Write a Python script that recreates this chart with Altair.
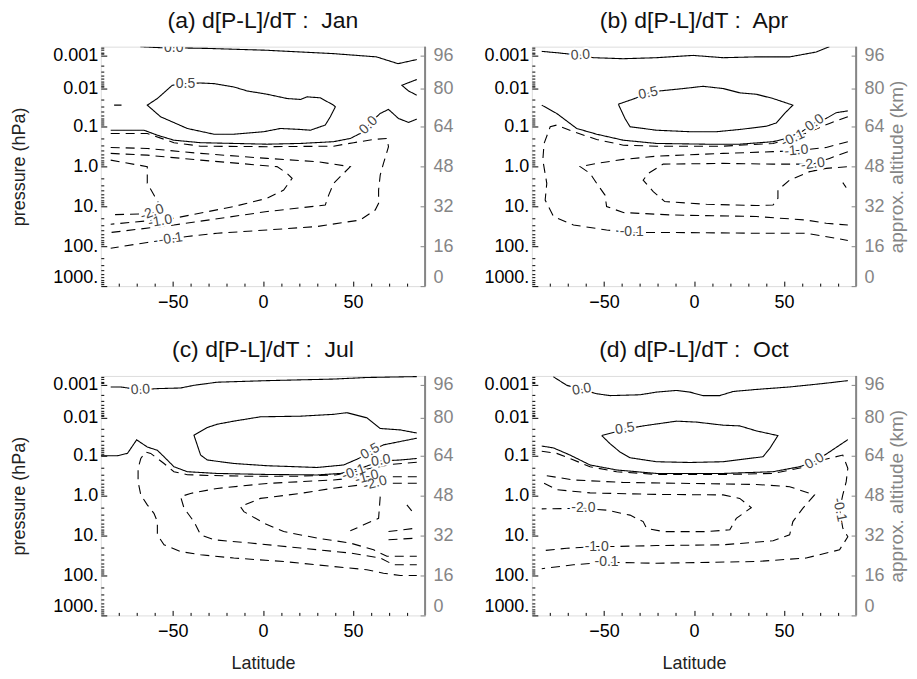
import altair as alt
import numpy as np
import pandas as pd

FONT = "Liberation Sans"
W, H = 325, 240

# ---------------- axes / scale settings ----------------
LAT_DOMAIN = [-90, 90]
LAT_MAJOR = [-50, 0, 50]
LAT_MINOR = [-80, -70, -60, -40, -30, -20, -10, 10, 20, 30, 40, 60, 70, 80]
ALT_TICKS = [0, 16, 32, 48, 64, 80, 96]
PRESSURE_LABELS = ["1000.", "100.", "10.", "1.0", "0.1", "0.01", "0.001"]
Y_DOMAIN = [0, 16, 32, 48, 64, 80, 96, 100]
Y_PIX = [240, 200, 160, 120, 80, 42, 9, 0]   # non-uniform vertical axis (pixels from top)

TITLES = {"a": "(a) d[P-L]/dT :\u00a0 Jan", "b": "(b) d[P-L]/dT :\u00a0 Apr",
          "c": "(c) d[P-L]/dT :\u00a0 Jul", "d": "(d) d[P-L]/dT :\u00a0 Oct"}

# ---------------- contour data (lat, approx altitude km) ----------------
# Panel (a) Jan
A_TOP0_LAT = [-68, -56, -44, -30, 2, 39, 63, 75, 85.4]
A_TOP0_Z = [100, 99.5, 99.4, 99.2, 98.4, 96.9, 95.4, 92.1, 94.1]
A_P05_LAT = [-50.3, -43, -34.6, -27.2, -16.2, -8.8, 2.3, 13.4, 20.8, 24.5, 31.8, 39.2, 40.2, 37.4, 34.6, 26.3, 20.8, 9.7, 0.5, -16.2, -27.2, -42.0, -56.8, -64.2, -58.6, -50.3]
A_P05_Z = [81.6, 82.4, 82.7, 82.4, 80.8, 79.0, 77.6, 75.8, 75.4, 76.5, 76.1, 73.0, 72.3, 68.1, 64.6, 62.5, 62.8, 63.2, 61.9, 60.9, 60.9, 63.2, 68.1, 73.0, 75.8, 81.6]
A_DOT_LAT = [-82.6, -78.5]
A_DOT_Z = [73, 73]
A_R1_LAT = [85.4, 77.1, 80.8, 85.4]
A_R1_Z = [84.4, 81.6, 79.0, 77.2]
A_LOW0_LAT = [-84.5, -66.0, -58.6, -49.4, -34.6, -16.2, 2.3, 20.8, 39.2, 48.5, 54, 58.6, 63, 65.1, 69.7, 75.2, 80.8, 85.4]
A_LOW0_Z = [62.5, 62.5, 60.5, 58.5, 57.5, 57.2, 56.9, 57.2, 57.9, 59.2, 61.2, 64.5, 68.0, 69.5, 71.2, 67.4, 65.7, 67.1]
A_M01_LAT = [-84.5, -64.2, -49.4, -34.6, 2.3, 39.2, 50.3, 61.4, 68.8, 69.7, 66.9, 65.1, 64.2, 64.2, 62.3, 54.0, 30.0, 2.3, -25.4, -42.0, -51.2, -64.2, -84.5]
A_M01_Z = [61.2, 61.2, 57.5, 56.1, 55.9, 56.1, 57.5, 58.8, 59.2, 55.9, 49.2, 44.5, 38.5, 33.2, 30.5, 26.5, 23.9, 22.5, 21.2, 19.9, 18.8, 17.5, 15.2]
A_M05_LAT = [-84.5, -64.2, -34.6, 2.3, 30.0, 48.5, 39.2, 36.5, 34.6, 2.3, -49.4, -84.5]
A_M05_Z = [55.6, 55.2, 53.2, 51.2, 49.9, 47.9, 41.2, 36.5, 32.5, 29.9, 24.5, 21.5]
A_M10_LAT = [-84.5, -64.2, -34.6, 7.8, 13.4, 16.2, 11.5, 2.3, -16.2, -49.4, -84.5]
A_M10_Z = [53.2, 52.5, 50.5, 47.9, 45.2, 43.2, 38.5, 35.2, 31.9, 27.2, 24.8]
A_M20_LAT = [-84.5, -64.2, -64.2, -60.5, -56.8, -61.4, -84.5]
A_M20_Z = [50.5, 47.9, 41.2, 36.5, 31.9, 29.1, 28.6]

# Panel (b) Apr
B_TOP0_LAT = [-84.5, -76.2, -63, -55.8, -39.2, -20.8, -0.5, 16.2, 34.6, 53.1, 67.8, 75.2]
B_TOP0_Z = [97.9, 97.3, 96.2, 95.0, 94.5, 95.0, 96.1, 95.0, 95.4, 95.4, 97.6, 100]
B_P05_LAT = [-42.0, -34, -25.4, -18.9, -6.0, 5.1, 16.2, 25.4, 34.6, 43.9, 54.9, 50.3, 45.7, 40.2, 25.4, 12.5, -2.3, -20.8, -35.5, -38.3, -42.0]
B_P05_Z = [73.4, 75.5, 78.0, 79.0, 80.0, 81.1, 80.0, 78.2, 77.6, 75.8, 73.0, 69.5, 65.5, 64.1, 62.8, 61.9, 61.9, 62.5, 63.9, 67.4, 73.4]
B_LOW0_LAT = [-84.5, -76.2, -65.1, -54.0, -39.2, -20.8, 6.9, 25.4, 43.9, 51.2, 60, 67, 73.4, 78.9, 85.4]
B_LOW0_Z = [73.0, 69.5, 63.2, 60.9, 58.5, 57.2, 56.9, 56.9, 57.9, 59.2, 62.0, 65.5, 67.4, 69.8, 70.6]
B_M01_LAT = [85.4, 75.2, 64.2, 54.9, 43.9, 16.2, -20.8, -39.2, -54.0, -66.9, -76.2, -79.8, -83.2, -83.9, -81.7, -82.6, -78.0, -66.9, -48.5, -34.6, -11.5, 34.6, 62.3, 71.5, 85.4]
B_M01_Z = [68.1, 65.3, 61.9, 59.2, 57.2, 56.1, 56.1, 56.5, 58.8, 61.9, 64.6, 63.9, 57.2, 50.5, 41.2, 34.5, 27.9, 24.5, 22.5, 21.5, 21.5, 21.2, 21.2, 20.1, 18.3]
B_M10_LAT = [85.4, 73.4, 56.8, 43.9, 16.2, -20.8, -39.2, -54.0, -63.2, -57.7, -54.0, -49.4, -48.5, -39.2, -11.5, 34.6, 62.3, 73.4, 85.4]
B_M10_Z = [57.9, 55.6, 54.3, 53.9, 53.2, 52.1, 50.8, 49.2, 47.9, 45.2, 41.2, 36.5, 31.9, 29.5, 28.5, 27.9, 26.5, 25.2, 24.5]
B_M20_LAT = [85.4, 75.2, 66.0, 43.9, 16.2, -17.1, -25.4, -28.2, -22.6, -16.2, 6.9, 34.6, 43.9, 46.6, 46.6, 53.1, 64.2, 73.4, 85.4]
B_M20_Z = [53.9, 51.2, 48.9, 48.9, 49.2, 48.9, 45.2, 42.5, 37.9, 33.9, 32.8, 32.3, 32.5, 35.2, 38.5, 42.5, 45.9, 47.2, 47.9]
B_TINY_LAT = [82.6, 84.5]
B_TINY_Z = [41.5, 39.5]

# Panel (c) Jul
C_TOP0_LAT = [-84.5, -78.9, -68, -58.6, -45.7, -38.3, -25.4, 2.3, 39.2, 57.7, 85.4]
C_TOP0_Z = [95.0, 95.0, 93.6, 94.2, 94.5, 95.8, 97.2, 97.9, 98.6, 99.3, 99.7]
C_P05_LAT = [85.4, 76.2, 65.1, 57.7, 46.6, 39.2, 20.8, -1.4, -16.2, -25.4, -30.9, -38.3, -34.6, -30.9, -16.2, 2.3, 30.0, 44.8, 53.1, 59.5, 66.9, 85.4]
C_P05_Z = [73.6, 74.9, 75.5, 80.0, 82.5, 81.7, 80.8, 80.5, 78.6, 77.3, 75.9, 72.7, 64.3, 62.3, 60.9, 60.0, 59.3, 60.3, 62.9, 65.6, 68.6, 71.4]
C_LOW0_LAT = [-90, -80.8, -75.2, -70.1, -64.2, -58.6, -54.9, -49.4, -42.0, -25.4, 2.3, 30.0, 42.9, 54.0, 65.5, 76.2, 85.4]
C_LOW0_Z = [64.0, 64.0, 65.0, 70.7, 67.7, 66.3, 63.6, 59.6, 57.6, 56.9, 56.5, 56.3, 56.9, 58.9, 61.9, 62.3, 62.9]
C_M01_LAT = [85.4, 72, 60, 50.3, 40, 20, -10, -30, -42, -49.4, -54.9, -62.3, -65.1, -67.8, -69.3, -69.3, -67.8, -64.2, -60.5, -58.6, -58.6, -54.9, -45.7, -34.6, -16.2, 11.5, 39.2, 57.7, 66.9, 76.2, 85.4]
C_M01_Z = [61.4, 60.6, 59.0, 57.5, 56.3, 55.8, 55.8, 56.1, 56.4, 57.6, 60.9, 65.0, 65.6, 62.9, 58.9, 53.6, 48.3, 44.3, 40.9, 37.6, 32.3, 28.3, 25.6, 24.3, 23.0, 21.6, 19.6, 18.3, 16.9, 16.0, 16.0]
C_M10_LAT = [85.4, 71.5, 57.7, 39.2, 2.3, -25.4, -40.2, -45.7, -43.8, -38.3, -34.6, -27.2, -6.9, 20.8, 48.5, 65.1, 72.5, 85.4]
C_M10_Z = [55.6, 55.6, 55.6, 54.3, 52.9, 50.9, 48.9, 47.6, 43.0, 37.6, 32.3, 30.3, 29.0, 27.0, 25.0, 23.0, 20.3, 20.3]
C_M20_LAT = [85.4, 72.5, 62.3, 39.2, 20.8, -1.4, -12.5, -10.6, 0.5, 11.5, 30.0, 48.5, 61.4, 68.8, 85.4]
C_M20_Z = [53.0, 53.0, 53.0, 51.0, 48.9, 46.9, 43.6, 41.6, 37.0, 33.6, 31.0, 29.0, 26.3, 23.7, 23.7]
C_X1_LAT = [69.7, 85.4]
C_X1_Z = [33.6, 35.0]
C_X2_LAT = [69.7, 85.4]
C_X2_Z = [30.3, 31.0]
C_X3_LAT = [65.1, 64.2, 55.9, 48.5]
C_X3_Z = [47.6, 38.9, 36.3, 33.9]
C_X4_LAT = [79.9, 82.6]
C_X4_Z = [44.3, 41.9]

# Panel (d) Oct
D_TOP0_LAT = [-78.0, -70.6, -62.3, -54.0, -46.6, -30.0, -20.8, -9.7, -2.3, 5.1, 14.3, 21.7, 34.6, 53.1, 71.5, 85.4]
D_TOP0_Z = [99.6, 95.8, 93.8, 91.7, 90.8, 91.2, 92.5, 93.3, 92.5, 90.8, 90.8, 92.8, 93.8, 95.0, 96.6, 97.9]
D_P05_LAT = [-51.2, -38.3, -28.2, -9.7, 1.4, 16.2, 25.4, 34.6, 46.6, 42.0, 38.3, 16.2, -2.3, -20.8, -35.5, -41.1, -46.6, -51.2]
D_P05_Z = [72.5, 75.2, 76.6, 78.6, 78.2, 76.9, 76.6, 74.5, 72.5, 67.0, 63.6, 61.6, 61.3, 61.6, 63.2, 65.6, 69.1, 72.5]
D_LOW0_LAT = [-84.5, -78.0, -68.8, -57.7, -42.9, -20.8, 16.2, 43.9, 58.6, 66.9, 75.2, 85.4]
D_LOW0_Z = [68.1, 67.3, 64.3, 60.3, 58.3, 56.9, 56.9, 57.6, 59.6, 61.6, 65.6, 70.8]
D_M01_LAT = [-84.5, -76.2, -68.8, -57.7, -42.9, -20.8, 16.2, 43.9, 60.5, 71.5, 82.6, 85.4, 84.5, 82.6, 80.8, 82.6, 85.4, 83, 80.8, 62.3, 34.6, -20.8, -48.5, -66.9, -84.5]
D_M01_Z = [65.9, 65.0, 62.9, 59.6, 57.6, 56.5, 56.5, 56.9, 59.3, 62.3, 64.3, 59.0, 53.6, 48.3, 42.4, 35.0, 31.5, 28.8, 26.3, 23.0, 21.6, 20.9, 21.3, 20.3, 18.7]
D_M10_LAT = [-81.7, -66.9, -39.2, -2.3, 34.6, 53.1, 66.9, 60.5, 54.9, 53.1, 43.9, 16.2, -20.8, -44.8, -54.0, -70.6, -84.5]
D_M10_Z = [56.0, 54.3, 53.3, 52.9, 52.5, 51.6, 48.3, 43.0, 37.6, 32.3, 29.9, 28.3, 28.0, 27.6, 27.6, 26.9, 25.9]
D_M20_LAT = [-83.2, -76.2, -57.7, -20.8, 16.2, 25.4, 31.8, 23.5, 19.9, 7.0, -17.1, -26.3, -28.2, -35.5, -48.5, -61.4, -84.5]
D_M20_Z = [53.0, 50.4, 49.1, 48.5, 48.3, 46.9, 43.2, 38.9, 34.3, 33.6, 33.6, 34.9, 37.6, 40.2, 42.2, 42.9, 42.7]

CONTOURS = [
    ("a", "top0", "solid", A_TOP0_LAT, A_TOP0_Z), ("a", "p05", "solid", A_P05_LAT, A_P05_Z),
    ("a", "dot", "solid", A_DOT_LAT, A_DOT_Z), ("a", "r1", "solid", A_R1_LAT, A_R1_Z),
    ("a", "low0", "solid", A_LOW0_LAT, A_LOW0_Z), ("a", "m01", "dashed", A_M01_LAT, A_M01_Z),
    ("a", "m05", "dashed", A_M05_LAT, A_M05_Z), ("a", "m10", "dashed", A_M10_LAT, A_M10_Z),
    ("a", "m20", "dashed", A_M20_LAT, A_M20_Z),
    ("b", "top0", "solid", B_TOP0_LAT, B_TOP0_Z), ("b", "p05", "solid", B_P05_LAT, B_P05_Z),
    ("b", "low0", "solid", B_LOW0_LAT, B_LOW0_Z), ("b", "m01", "dashed", B_M01_LAT, B_M01_Z),
    ("b", "m10", "dashed", B_M10_LAT, B_M10_Z), ("b", "m20", "dashed", B_M20_LAT, B_M20_Z),
    ("b", "tiny", "solid", B_TINY_LAT, B_TINY_Z),
    ("c", "top0", "solid", C_TOP0_LAT, C_TOP0_Z), ("c", "p05", "solid", C_P05_LAT, C_P05_Z),
    ("c", "low0", "solid", C_LOW0_LAT, C_LOW0_Z), ("c", "m01", "dashed", C_M01_LAT, C_M01_Z),
    ("c", "m10", "dashed", C_M10_LAT, C_M10_Z), ("c", "m20", "dashed", C_M20_LAT, C_M20_Z),
    ("c", "x1", "dashed", C_X1_LAT, C_X1_Z), ("c", "x2", "dashed", C_X2_LAT, C_X2_Z),
    ("c", "x3", "dashed", C_X3_LAT, C_X3_Z), ("c", "x4", "dashed", C_X4_LAT, C_X4_Z),
    ("d", "top0", "solid", D_TOP0_LAT, D_TOP0_Z), ("d", "p05", "solid", D_P05_LAT, D_P05_Z),
    ("d", "low0", "solid", D_LOW0_LAT, D_LOW0_Z), ("d", "m01", "dashed", D_M01_LAT, D_M01_Z),
    ("d", "m10", "dashed", D_M10_LAT, D_M10_Z), ("d", "m20", "dashed", D_M20_LAT, D_M20_Z),
]

# contour labels: panel, text, lat, z, angle
LABEL_PANEL = ["a"] * 6 + ["b"] * 7 + ["c"] * 6 + ["d"] * 7
LABEL_TEXT = ["0.0", "0.5", "0.0", "-2.0", "-1.0", "-0.1",
              "0.0", "0.5", "0.0", "-0.1", "-1.0", "-2.0", "-0.1",
              "0.0", "0.5", "0.0", "-0.1", "-1.0", "-2.0",
              "0.0", "0.5", "0.0", "-0.1", "-2.0", "-1.0", "-0.1"]
LABEL_LAT = [-49.5, -43, 58.6, -61.5, -57, -51.2,
             -63, -25.4, 67, 54.9, 56.8, 66.0, -34.6,
             -68, 59.5, 65.5, 50.3, 57.7, 62.3,
             -62.3, -38.3, 66.9, 80.8, -61.4, -54.0, -48.5]
LABEL_Z = [99.4, 82.4, 64.5, 29.5, 26.0, 18.9,
           96.2, 78.0, 65.5, 59.2, 54.3, 48.9, 21.5,
           93.6, 65.8, 62.0, 57.3, 55.4, 53.0,
           93.8, 75.4, 61.8, 42.4, 43.0, 27.6, 21.3]
LABEL_ANGLE = [0, 0, 315, 340, 350, 352,
               357, 348, 325, 335, 355, 352, 0,
               357, 330, 350, 340, 345, 345,
               350, 350, 330, 78, 0, 0, 0]

# ---------------- tables ----------------
rows = []
for panel, name, style, lats, zs in CONTOURS:
    for i, (la, zz) in enumerate(zip(lats, zs)):
        rows.append({"panel": panel, "cid": panel + name, "style": style, "idx": i, "lat": la, "z": zz})
lines_df = pd.DataFrame(rows)
labels_df = pd.DataFrame({"panel": LABEL_PANEL, "text": LABEL_TEXT, "lat": LABEL_LAT,
                          "z": LABEL_Z, "angle": LABEL_ANGLE})

# minor (log) ticks of the pressure axis, expressed on the altitude coordinate
MINOR_Z = []
for e in range(2, -5, -1):
    for k in range(2, 10):
        zz = 16 * np.log10(1000.0 / (k * 10.0 ** e))
        if 0 < zz < Y_DOMAIN[-1]:
            MINOR_Z.append(round(float(zz), 3))

p_expr = ""
for v, lab in zip(ALT_TICKS, PRESSURE_LABELS):
    p_expr += f"datum.value == {v} ? '{lab}' : "
p_expr += "''"

GRAY = "#858585"


def make_panel(key, left_title, bottom_title, right_title):
    dl = lines_df[lines_df.panel == key]
    dt = labels_df[labels_df.panel == key]
    xs = alt.Scale(domain=LAT_DOMAIN, nice=False, zero=False)
    ys = alt.Scale(domain=Y_DOMAIN, range=Y_PIX, nice=False, zero=False)

    x_major = alt.Axis(orient="bottom", values=LAT_MAJOR, offset=-5, tickSize=5, tickColor="black",
                       domain=False, grid=False, labelFont=FONT, labelFontSize=18, labelColor="black",
                       labelPadding=7, format="d", title=bottom_title, titleFont=FONT, titleFontSize=18,
                       titleFontWeight="normal", titleColor="#222222", titlePadding=14)
    x_minor = alt.Axis(orient="bottom", values=LAT_MINOR, offset=-3, tickSize=3, tickColor="black",
                       domain=False, grid=False, labels=False, title=None)
    y_major = alt.Axis(orient="left", values=ALT_TICKS, labelExpr=p_expr, offset=-6, tickSize=6,
                       tickColor="black", domain=False, grid=False, labelFont=FONT, labelFontSize=18,
                       labelColor="black", labelPadding=3, labelFlush=True, title=left_title,
                       titleFont=FONT, titleFontSize=18, titleFontWeight="normal", titleColor="#222222",
                       titlePadding=24)
    y_minor = alt.Axis(orient="left", values=MINOR_Z, offset=-3, tickSize=3, tickColor="black",
                       domain=False, grid=False, labels=False, title=None)
    y_right = alt.Axis(orient="right", values=ALT_TICKS, offset=-5, tickSize=5, tickColor=GRAY,
                       domain=False, grid=False, labelFont=FONT, labelFontSize=18, labelColor=GRAY,
                       labelPadding=8, labelFlush=True, format="d", title=right_title, titleFont=FONT,
                       titleFontSize=19, titleFontWeight="normal", titleColor=GRAY, titleAngle=270,
                       titleBaseline="top", titlePadding=3)

    lines = alt.Chart(dl).mark_line(color="black", strokeWidth=1.1, clip=True).encode(
        x=alt.X("lat:Q", scale=xs, axis=x_major),
        y=alt.Y("z:Q", scale=ys, axis=y_major),
        detail="cid:N",
        order="idx:Q",
        strokeDash=alt.StrokeDash("style:N", scale=alt.Scale(domain=["solid", "dashed"],
                                                             range=[[1, 0], [9, 6]]), legend=None),
    )
    halo = alt.Chart(dt).mark_text(font=FONT, fontSize=14, color="white", stroke="white",
                                   strokeWidth=4, clip=True).encode(
        x=alt.X("lat:Q", scale=xs, axis=x_minor),
        y=alt.Y("z:Q", scale=ys, axis=y_minor),
        text="text:N",
        angle=alt.Angle("angle:Q", scale=None),
    )
    txt = alt.Chart(dt).mark_text(font=FONT, fontSize=14, color="#454545", clip=True).encode(
        x=alt.X("lat:Q", scale=xs, axis=None),
        y=alt.Y("z:Q", scale=ys, axis=y_right),
        text="text:N",
        angle=alt.Angle("angle:Q", scale=None),
    )
    edge = alt.Chart(pd.DataFrame({"lat": [LAT_DOMAIN[1]]})).mark_rule(color=GRAY, strokeWidth=2).encode(
        x=alt.X("lat:Q", scale=xs, axis=None)
    )
    return alt.layer(lines, halo, txt, edge).resolve_axis(x="independent", y="independent").properties(
        width=W, height=H,
        title=alt.TitleParams(TITLES[key], font=FONT, fontSize=23, fontWeight="normal", color="#111111",
                              anchor="middle", frame="group", offset=13),
    )


pa = make_panel("a", "pressure (hPa)", None, None)
pb = make_panel("b", None, None, "approx. altitude (km)")
pc = make_panel("c", "pressure (hPa)", "Latitude", None)
pd_ = make_panel("d", None, "Latitude", "approx. altitude (km)")

chart = alt.concat(pa, pb, pc, pd_, columns=2, spacing={"row": 90, "column": 107}, bounds="flush").properties(
    padding={"left": 2, "top": 0, "right": 2, "bottom": 2}
).configure_view(stroke="black", strokeWidth=1).configure(font=FONT, background="white")

chart.save("out.html", embed_options={"renderer": "svg", "actions": False})
